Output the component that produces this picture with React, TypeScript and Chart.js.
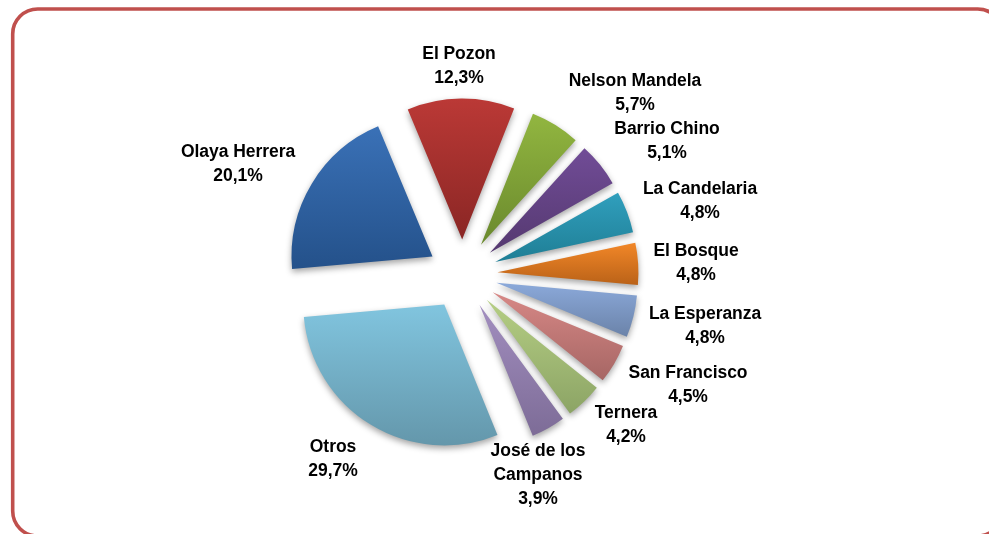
import React, { useEffect, useRef } from "react";
import { Chart, registerables } from "chart.js";

Chart.register(...registerables);

const categories = ["El Pozon", "Nelson Mandela", "Barrio Chino", "La Candelaria", "El Bosque", "La Esperanza", "San Francisco", "Ternera", "José de los|Campanos", "Otros", "Olaya Herrera"];
const shares = [12.3, 5.7, 5.1, 4.8, 4.8, 4.8, 4.5, 4.2, 3.9, 29.7, 20.1];
const percentLabels = ["12,3%", "5,7%", "5,1%", "4,8%", "4,8%", "4,8%", "4,5%", "4,2%", "3,9%", "29,7%", "20,1%"];
const topColors = ["#BB3936", "#92B640", "#714C97", "#309FBD", "#F28728", "#8BA9DA", "#D78886", "#B5CE84", "#A28EBF", "#81C5DF", "#3A71B7"];
const bottomColors = ["#8A2624", "#6A892D", "#553970", "#1F7E95", "#BA6218", "#6B83A9", "#A66664", "#8CA465", "#7D6C97", "#6497AB", "#24518A"];
const labelCenters = [[459, 54], [635, 81], [667, 129], [700, 189], [696, 251], [705, 314], [688, 373], [626, 413], [538, 451], [333, 447], [238, 152]];

const CX = 462.5;
const CY = 274.5;
const PAD = 200;
const EXPLODE = 35;

const framePlugin = {
  id: "frame",
  beforeDraw(chart: any) {
    const c = chart.ctx;
    c.save();
    c.fillStyle = "#ffffff";
    c.fillRect(0, 0, chart.width, chart.height);
    c.strokeStyle = "#C0504D";
    c.lineWidth = 3.6;
    c.beginPath();
    c.roundRect(12.7, 9, 990, 527, 25);
    c.stroke();
    c.restore();
  },
};

// Chart.js's own `offset` narrows and enlarges wedges, so explode by translating each arc whole.
const explodePlugin = {
  id: "explode",
  beforeDatasetDraw(chart: any, args: any) {
    const c = chart.ctx;
    args.meta.data.forEach((arc: any) => {
      const mid = (arc.startAngle + arc.endAngle) / 2;
      c.save();
      c.shadowColor = "rgba(0,0,0,0.36)";
      c.shadowBlur = 6;
      c.shadowOffsetX = 0;
      c.shadowOffsetY = 3;
      c.translate(Math.cos(mid) * EXPLODE, Math.sin(mid) * EXPLODE);
      arc.draw(c);
      c.restore();
    });
    return false;
  },
};

const labelPlugin = {
  id: "sliceLabels",
  afterDatasetsDraw(chart: any) {
    const c = chart.ctx;
    c.save();
    c.fillStyle = "#000000";
    c.textAlign = "center";
    c.textBaseline = "middle";
    c.font = 'bold 17.5px "Liberation Sans", Arial, sans-serif';
    (c as any).letterSpacing = "-0.05px";
    categories.forEach((name, i) => {
      const lines = [...name.split("|"), percentLabels[i]];
      lines.forEach((t, j) => c.fillText(t, labelCenters[i][0], labelCenters[i][1] + j * 24.2));
    });
    c.restore();
  },
};

export default function App() {
  const ref = useRef<HTMLCanvasElement>(null);
  useEffect(() => {
    const chart = new Chart(ref.current!, {
      type: "pie",
      data: {
        labels: categories.map((s) => s.replace("|", " ")),
        datasets: [{ data: shares, backgroundColor: topColors, borderWidth: 0, clip: false } as any],
      },
      options: {
        responsive: false,
        animation: false,
        radius: 141,
        rotation: -22.7,
        layout: { padding: { left: CX - PAD, right: 989 - CX - PAD, top: CY - PAD, bottom: 534 - CY - PAD } },
        plugins: { legend: { display: false }, tooltip: { enabled: false } },
      } as any,
      plugins: [framePlugin, explodePlugin, labelPlugin],
    });
    const c = chart.ctx;
    const arcs = chart.getDatasetMeta(0).data as any[];
    const grads = arcs.map((a, i) => {
      const { y, startAngle, endAngle, outerRadius } = a.getProps(["y", "startAngle", "endAngle", "outerRadius"], true);
      let lo = y;
      let hi = y;
      for (let k = 0; k <= 24; k++) {
        const t = startAngle + ((endAngle - startAngle) * k) / 24;
        const py = y + Math.sin(t) * outerRadius;
        lo = Math.min(lo, py);
        hi = Math.max(hi, py);
      }
      const g = c.createLinearGradient(0, lo, 0, hi);
      g.addColorStop(0, topColors[i]);
      g.addColorStop(1, bottomColors[i]);
      return g;
    });
    (chart.data.datasets[0] as any).backgroundColor = grads;
    chart.update();
    return () => chart.destroy();
  }, []);
  return (
    <div style={{ position: "fixed", left: 0, top: 0, width: 989, height: 534, background: "#fff" }}>
      <canvas ref={ref} width={989} height={534} style={{ display: "block" }} />
    </div>
  );
}
